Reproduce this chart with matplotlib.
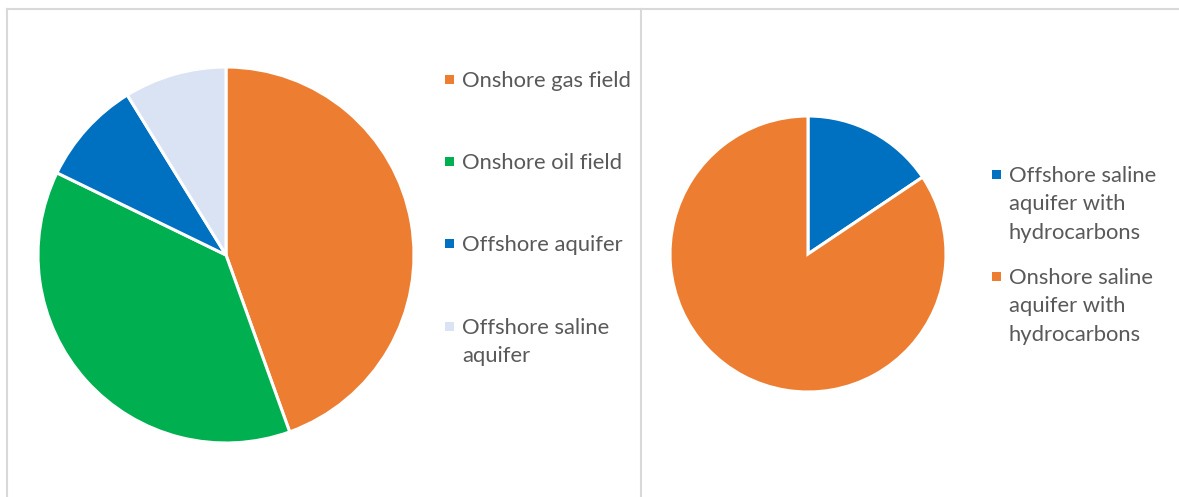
import matplotlib.pyplot as plt
from matplotlib.patches import Rectangle
from matplotlib.lines import Line2D

plt.rcParams['font.family'] = ['Lato', 'DejaVu Sans']

W, H = 1179, 497

# left chart: storage site types
site_labels = ["Onshore gas field", "Onshore oil field", "Offshore aquifer", "Offshore saline\naquifer"]
site_shares = [44.5, 37.7, 9.0, 8.8]
site_colors = ["#ED7D31", "#00B050", "#0070C0", "#DAE3F3"]

# right chart: saline aquifers with hydrocarbons
aq_labels = ["Offshore saline\naquifer with\nhydrocarbons", "Onshore saline\naquifer with\nhydrocarbons"]
aq_shares = [15.6, 84.4]
aq_colors = ["#0070C0", "#ED7D31"]

text_col = "#595959"
border_col = "#D9D9D9"

fig = plt.figure(figsize=(W / 100, H / 100), dpi=100)


def px_axes(cx, cy, r):
    ax = fig.add_axes([(cx - r) / W, (H - cy - r) / H, 2 * r / W, 2 * r / H])
    ax.axis("off")
    return ax


ax1 = px_axes(226, 255, 188)
ax1.pie(site_shares, colors=site_colors, startangle=90, counterclock=False, radius=1,
        wedgeprops=dict(edgecolor="white", linewidth=2.2))
ax1.set_xlim(-1, 1)
ax1.set_ylim(-1, 1)

ax2 = px_axes(808, 254, 138)
ax2.pie(aq_shares, colors=aq_colors, startangle=90, counterclock=False, radius=1,
        wedgeprops=dict(edgecolor="white", linewidth=2.2))
ax2.set_xlim(-1, 1)
ax2.set_ylim(-1, 1)


def legend_entry(x, y, color, label, step=28.5):
    s = 9
    fig.patches.append(Rectangle(((x - s / 2) / W, (H - y - s / 2) / H), s / W, s / H,
                                 transform=fig.transFigure, facecolor=color, edgecolor="none"))
    for i, line in enumerate(label.split("\n")):
        fig.text((x + 13) / W, (H - y - i * step) / H, line, color=text_col, fontsize=15.8,
                 va="center_baseline", ha="left")


for lab, col, y in zip(site_labels, site_colors, [79, 161, 243, 326]):
    legend_entry(449, y, col, lab)
for lab, col, y in zip(aq_labels, aq_colors, [174, 276]):
    legend_entry(996, y, col, lab)

# panel frames
for xs, ys in [([7.5, 7.5], [H, 8.5]), ([7.5, 1178], [8.5, 8.5]), ([640.5, 640.5], [8.5, H])]:
    fig.lines.append(Line2D([x / W for x in xs], [1 - y / H for y in ys],
                            transform=fig.transFigure, color=border_col, linewidth=1.5))

fig.savefig("out.png", dpi=100)
